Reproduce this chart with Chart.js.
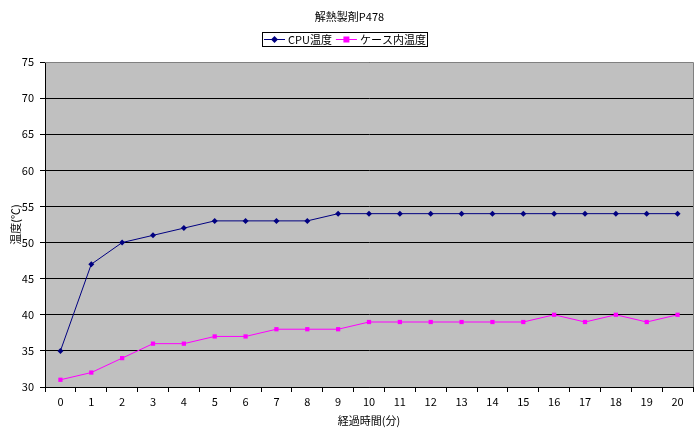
<!DOCTYPE html>
<html>
<head>
<meta charset="utf-8">
<script src="https://cdn.jsdelivr.net/npm/chart.js@4/dist/chart.umd.min.js"></script>
<style>
  html, body { margin: 0; padding: 0; background: #fff; }
  #wrap { width: 700px; height: 435px; }
</style>
</head>
<body>
<div id="wrap"><canvas id="chart" width="700" height="435"></canvas></div>
<script>
const minutes = ['0','1','2','3','4','5','6','7','8','9','10','11','12','13','14','15','16','17','18','19','20'];
const cpuTemp = [35, 47, 50, 51, 52, 53, 53, 53, 53, 54, 54, 54, 54, 54, 54, 54, 54, 54, 54, 54, 54];
const caseTemp = [31, 32, 34, 36, 36, 37, 37, 38, 38, 38, 39, 39, 39, 39, 39, 39, 40, 39, 40, 39, 40];

const FONT = '"Noto Sans CJK JP", "DejaVu Sans", sans-serif';

// plot area fill, frame, and a boxed legend like the original sheet chart
const decor = {
  id: 'decor',
  beforeDraw(chart) {
    const { ctx, chartArea: a } = chart;
    ctx.save();
    ctx.fillStyle = '#c0c0c0';
    ctx.fillRect(a.left, a.top, a.right - a.left, a.bottom - a.top);
    ctx.restore();
  },
  afterDraw(chart) {
    const { ctx, chartArea: a } = chart;
    ctx.save();
    ctx.strokeStyle = '#808080';
    ctx.lineWidth = 1;
    ctx.beginPath();
    ctx.moveTo(a.left, a.top + 0.5);
    ctx.lineTo(a.right + 0.5, a.top + 0.5);
    ctx.lineTo(a.right + 0.5, a.bottom);
    ctx.stroke();

    // legend
    ctx.font = '11px ' + FONT;
    ctx.textBaseline = 'middle';
    const y = 39.5;
    let x = 264;
    const items = chart.data.datasets.map(ds => ({ ds, w: ctx.measureText(ds.label).width }));
    const left = x - 2;
    items.forEach(({ ds, w }, i) => {
      ctx.strokeStyle = ds.borderColor;
      ctx.beginPath();
      ctx.moveTo(x, y);
      ctx.lineTo(x + 21, y);
      ctx.stroke();
      ctx.fillStyle = ds.borderColor;
      const cx = x + 10.5;
      if (ds.pointStyle === 'rectRot') {
        ctx.beginPath();
        ctx.moveTo(cx, y - 3.5); ctx.lineTo(cx + 3.5, y); ctx.lineTo(cx, y + 3.5); ctx.lineTo(cx - 3.5, y);
        ctx.closePath();
        ctx.fill();
      } else {
        ctx.fillRect(cx - 3, y - 3, 6, 6);
      }
      ctx.fillStyle = '#000';
      ctx.fillText(ds.label, x + 24, y);
      x += 24 + w + (i < items.length - 1 ? 4 : 0);
    });
    ctx.strokeStyle = '#000';
    ctx.strokeRect(left + 0.5, 32.5, Math.round(x + 1 - left), 14);
    ctx.restore();
  }
};

new Chart(document.getElementById('chart'), {
  type: 'line',
  data: {
    labels: minutes,
    datasets: [
      {
        label: 'CPU温度',
        data: cpuTemp,
        borderColor: '#000080',
        backgroundColor: '#000080',
        borderWidth: 1,
        pointStyle: 'rectRot',
        pointRadius: 3,
        pointBorderWidth: 0,
        tension: 0,
      },
      {
        label: 'ケース内温度',
        data: caseTemp,
        borderColor: '#ff00ff',
        backgroundColor: '#ff00ff',
        borderWidth: 1,
        pointStyle: 'rect',
        pointRadius: 3,
        pointBorderWidth: 0,
        tension: 0,
      },
    ],
  },
  options: {
    responsive: false,
    animation: false,
    layout: { padding: { left: 6, right: 7, top: 0, bottom: 0 } },
    plugins: {
      title: {
        display: true,
        text: '解熱製剤P478',
        color: '#000',
        font: { family: FONT, size: 11, weight: 'normal' },
        padding: { top: 10, bottom: 38.8 },
      },
      legend: { display: false },
      tooltip: { enabled: false },
    },
    scales: {
      x: {
        offset: true,
        grid: {
          offset: true,
          drawOnChartArea: false,
          drawTicks: true,
          tickLength: 5,
          color: '#000',
        },
        border: { display: true, color: '#000', width: 1 },
        ticks: { color: '#000', font: { family: FONT, size: 11 }, maxRotation: 0, autoSkip: false, padding: 3 },
        title: { display: true, text: '経過時間(分)', color: '#000', font: { family: FONT, size: 11 }, padding: { top: 2, bottom: 8 } },
        afterFit(scale) { scale.height = 48; },
      },
      y: {
        min: 30,
        max: 75,
        ticks: { stepSize: 5, color: '#000', font: { family: FONT, size: 11 }, padding: 6 },
        grid: { color: '#000', tickLength: 5, lineWidth: 1 },
        border: { display: true, color: '#000', width: 1 },
        title: { display: true, text: '温度(℃)', color: '#000', font: { family: FONT, size: 11 }, padding: { top: 3, bottom: 0 } },
        afterFit(scale) { scale.width = 39; },
      },
    },
  },
  plugins: [decor],
});
</script>
</body>
</html>
